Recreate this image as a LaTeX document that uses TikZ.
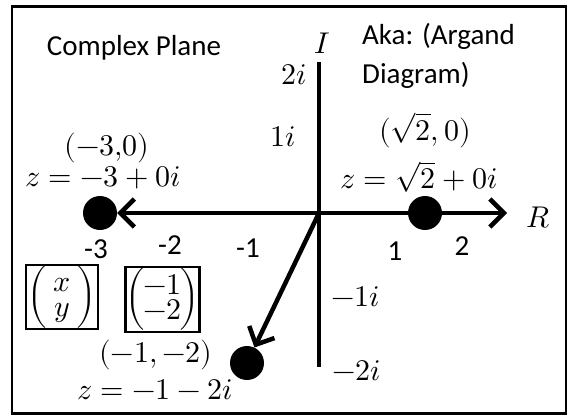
\documentclass[tikz,border=0pt]{standalone}
\usepackage{amsmath}
\usepackage{fontspec}
\usepackage{unicode-math}
\setmainfont{Carlito}
\setmathfont{Latin Modern Math}
\usetikzlibrary{arrows.meta}
\newcommand{\tallpar}[2]{\left(\hspace{#1}\begin{array}{@{}c@{}}#2\end{array}\hspace{#1}\rule[-24pt]{0pt}{63pt}\right)}
\tikzset{
  axis/.style={line width=3.5pt},
  vec/.style={line width=4.5pt,-{Straight Barb[length=14pt,width=28pt,line width=4.5pt]}},
  pt/.style={circle,fill=black,inner sep=0pt,minimum size=34pt},
  lab/.style={font=\fontsize{29}{35}\selectfont,inner sep=0pt},
  mlab/.style={font=\fontsize{30}{36}\selectfont,inner sep=0pt},
  vbox/.style={draw,line width=2.7pt,inner sep=0pt,minimum width=72pt,minimum height=64pt}
}
\begin{document}
\begin{tikzpicture}[x=1pt,y=-1pt]
\useasboundingbox (0,0) rectangle (571,417);
\node[draw,line width=2.5pt,minimum width=554pt,minimum height=407pt,inner sep=0pt] (frame) at (289,210) {};
% axes
\coordinate (O) at (319,213);
\coordinate (Itop) at (319,62);
\coordinate (Ibot) at (319,367);
\coordinate (Rend) at (507,213);
\draw[axis] (Itop) -- (Ibot);
% points
\node[pt] (pL) at (100,213) {};
\node[pt] (pR) at (425,213) {};
\node[pt] (pD) at (247,363) {};
\draw[vec] (O) -- (Rend);
\draw[vec] (O) -- (pL);
\draw[vec] (O) -- (pD);
% titles
\node[lab] (title) at (134,48) {Complex Plane};
\node[lab,anchor=west] (aka1) at (362,36) {Aka: (Argand};
\node[lab,anchor=west] (aka2) at (362,75) {Diagram)};
% axis names
\node[mlab] (Ilab) at (322,43) {$I$};
\node[mlab] (Rlab) at (538,218) {$R$};
% imaginary ticks
\node[mlab] (t2i) at (294,75) {$2i$};
\node[mlab] (t1i) at (283,137) {$1i$};
\node[mlab] (tm1i) at (356,297) {$-1i$};
\node[mlab] (tm2i) at (357,371) {$-2i$};
% real ticks
\node[lab] (tm3) at (96,249) {-3};
\node[lab] (tm2) at (170,245) {-2};
\node[lab] (tm1) at (248,248) {-1};
\node[lab] (t1) at (395,251) {1};
\node[lab] (t2) at (462,246) {2};
% point labels
\node[mlab] (cR) at (425,130) {$(\sqrt{2},0)$};
\node[mlab] (zR) at (419,177) {$z=\sqrt{2}+0i$};
\node[mlab] (cL) at (107,148) {$(-3{,}0)$};
\node[mlab] (zL) at (103,178) {$z=-3+0i$};
\node[mlab] (cD) at (156,355) {$(-1,-2)$};
\node[mlab] (zD) at (155,390) {$z=-1-2i$};
% boxes with vectors
\node[mlab,vbox] (b1) at (62,297) {$\tallpar{6pt}{x\\[-11pt]y}$};
\node[mlab,vbox,minimum width=67pt,minimum height=65pt] (b2) at (162.5,299.5) {$\tallpar{-2pt}{-1\\[-11pt]-2}$};
\end{tikzpicture}
\end{document}
